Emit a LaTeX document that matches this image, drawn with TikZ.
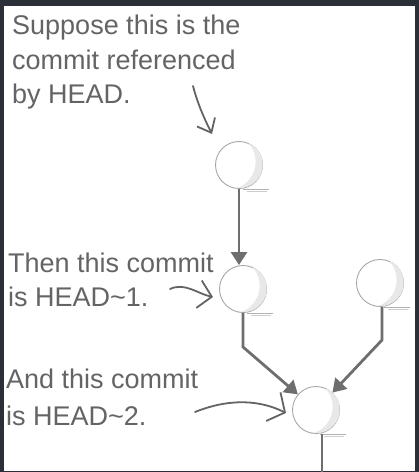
\documentclass[tikz,border=0pt]{standalone}
\usepackage{fontspec}
\setmainfont{Liberation Sans}
\usetikzlibrary{arrows.meta}
\definecolor{frame}{HTML}{2B2F37}
\definecolor{ink}{HTML}{646464}
\definecolor{edgec}{HTML}{6E6E6E}
\tikzset{
  commit/.style={circle, minimum size=47pt, inner sep=0pt, draw=gray!70, fill=white, line width=0.9pt},
  edge/.style={draw=edgec, line width=2.8pt, -{Triangle[length=13pt,width=16pt]}},
  plain/.style={draw=edgec, line width=2.8pt},
  hand/.style={draw=ink, line width=1.8pt, line cap=round, line join=round},
  label/.style={anchor=base west, inner sep=0pt, text=ink, font=\fontsize{27}{34}\selectfont},
}
\begin{document}
\begin{tikzpicture}[x=1pt,y=-1pt]
\fill[frame] (0,0) rectangle (419,472);
\fill[white] (4,6) rectangle (415,471);
\useasboundingbox (0,0) rectangle (419,472);

% commits
\node[commit] (c0) at (239,165) {};
\node[commit] (c1) at (243,289) {};
\node[commit] (c2) at (380,283) {};
\node[commit] (c3) at (316,410) {};

% shading crescents and ledges
\foreach \n in {c0,c1,c2,c3}{
  \fill[gray!18] (\n.50) arc[start angle=50,end angle=-95,radius=23.5pt]
     arc[start angle=-70,end angle=45,radius=28pt] -- cycle;
  \draw[gray!60, line width=0.6pt] ([xshift=4pt]\n.south) -- ++(26,0);
  \draw[gray!40, line width=0.5pt] ([xshift=8pt,yshift=-2pt]\n.south) -- ++(20,0);
}

% connectors
\coordinate (k1) at (243,347);
\coordinate (k2) at (382,340);
\coordinate (bot) at (322,472);
\draw[edge] (c0.south) -- (c0.south |- c1.north);
\draw[edge] (c1.south) -- (k1) -- (c3);
\draw[edge] (c2.south -| k2) -- (k2) -- (c3);
\draw[plain] (bot |- c3.south) -- (bot);

% labels
\node[label] (t0a) at (12,34) {Suppose this is the};
\node[label] (t0b) at (12,69) {commit referenced};
\node[label] (t0c) at (12,103) {by HEAD.};
\node[label] (t1a) at (8,272) {Then this commit};
\node[label] (t1b) at (8,306) {is HEAD\textasciitilde 1.};
\node[label] (t2a) at (6,388) {And this commit};
\node[label] (t2b) at (6,425) {is HEAD\textasciitilde 2.};

% hand arrows
\coordinate (a0s) at (193,86);
\coordinate (a0e) at (212,134);
\draw[hand, -{Straight Barb[length=12pt,width=20pt,line width=1.8pt]}] (a0s) .. controls (198,105) and (205,120) .. (a0e);
\coordinate (a1s) at (170,289);
\coordinate (a1e) at (213,297);
\draw[hand, -{Straight Barb[length=13pt,width=28pt,line width=1.8pt]}] (a1s) .. controls (185,282) and (198,294) .. (a1e);
\coordinate (a2s) at (195,412);
\coordinate (a2e) at (286,413);
\draw[hand, -{Straight Barb[length=13pt,width=32pt,line width=1.8pt]}] (a2s) .. controls (230,398) and (260,400) .. (a2e);
\end{tikzpicture}
\end{document}
